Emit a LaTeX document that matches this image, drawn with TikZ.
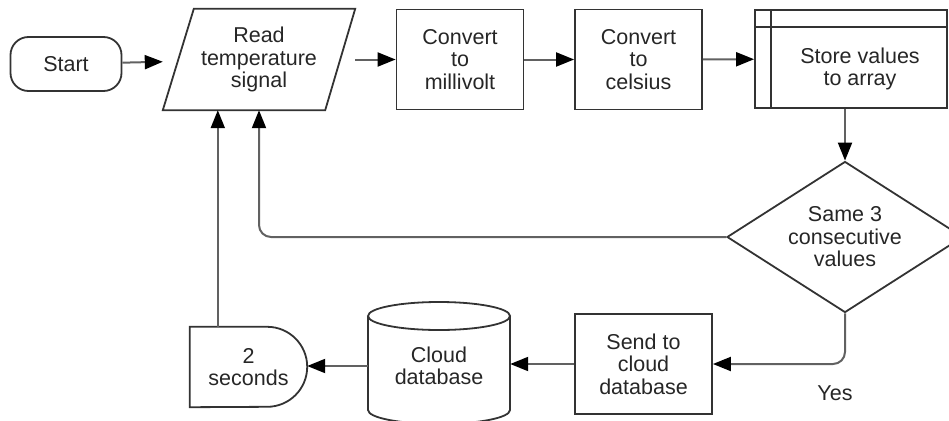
\documentclass[tikz,border=0pt]{standalone}
\usepackage{fontspec}
\setmainfont{Liberation Sans}
\usetikzlibrary{shapes.geometric,arrows.meta,calc}
\begin{document}
\begin{tikzpicture}[x=1pt,y=-1pt,
  every node/.style={font=\fontsize{21.5}{22.5}\selectfont, align=center, inner sep=0pt, text=black!85},
  outline/.style={draw=black!80, line width=1.8pt},
  proc/.style={outline, rectangle, minimum width=127pt, minimum height=100pt},
  flow/.style={draw=black!62, line width=2pt, rounded corners=12pt,
    -{Triangle[length=18pt,width=14pt,color=black]}},
]
\useasboundingbox (0,0) rectangle (949,420);

% top row
\node[outline, rounded corners=18pt, minimum width=111pt, minimum height=54pt] (start) at (66,64) {Start};

\node[minimum width=192pt, minimum height=101pt] (read) at (259,59.5) {Read\\temperature\\signal};
\draw[outline] (read.south west) -- ($(read.south east)+(-30,0)$) -- (read.north east)
  -- ($(read.north west)+(31,0)$) -- cycle;

\node[proc] (mv) at (460,59.5) {Convert\\to\\millivolt};
\node[proc] (cel) at (638.5,59.5) {Convert\\to\\celsius};

\node[outline, minimum width=192pt, minimum height=98pt] (store) at (851,59) {};
\draw[outline] ($(store.north west)+(17,0)$) -- ($(store.south west)+(17,0)$);
\draw[outline] ($(store.north west)+(0,18)$) -- ($(store.north east)+(0,18)$);
\node at ($(store.center)+(9,10)$) {Store values\\to array};

% decision
\node[outline, diamond, aspect=1.56, minimum width=236pt, minimum height=151pt] (dec) at (845,237) {Same 3\\consecutive\\values};

% bottom row
\node[outline, minimum width=137pt, minimum height=100pt] (send) at (643.5,364) {Send to\\cloud\\database};

\node[minimum width=142pt] (cloud) at (439,366) {Cloud\\database};
\draw[outline] ($(cloud.center)+(0,-50)$) ellipse [x radius=71pt, y radius=14pt];
\draw[outline] ($(cloud.center)+(-71,-50)$) -- ($(cloud.center)+(-71,44)$)
  arc[start angle=180, end angle=360, x radius=71pt, y radius=14pt]
  -- ($(cloud.center)+(71,-50)$);

\node[minimum width=117pt, minimum height=80pt] (delay) at (248.5,367) {2\\seconds};
\draw[outline] (delay.south west) -- (delay.north west) -- ($(delay.north east)+(-40,0)$)
  arc[start angle=90, end angle=-90, radius=40pt] -- cycle;

\node (yes) at (835,393) {Yes};

% connectors
\draw[flow] (start) -- (read);
\draw[flow] (read) -- (mv);
\draw[flow] (mv) -- (cel);
\draw[flow] (cel) -- (store);
\draw[flow] (store.south -| dec.north) -- (dec.north);
\draw[flow] (dec.west) -| (read.south);
\draw[flow] (dec.south) |- (send.east);
\draw[flow] (send.west) -- (send.west -| cloud.east);
\draw[flow] (cloud.west) -- (cloud.west -| delay.east);
\coordinate (up) at ($(delay.north west)+(28,0)$);
\draw[flow] (up) -- (up |- read.south);
\end{tikzpicture}
\end{document}
